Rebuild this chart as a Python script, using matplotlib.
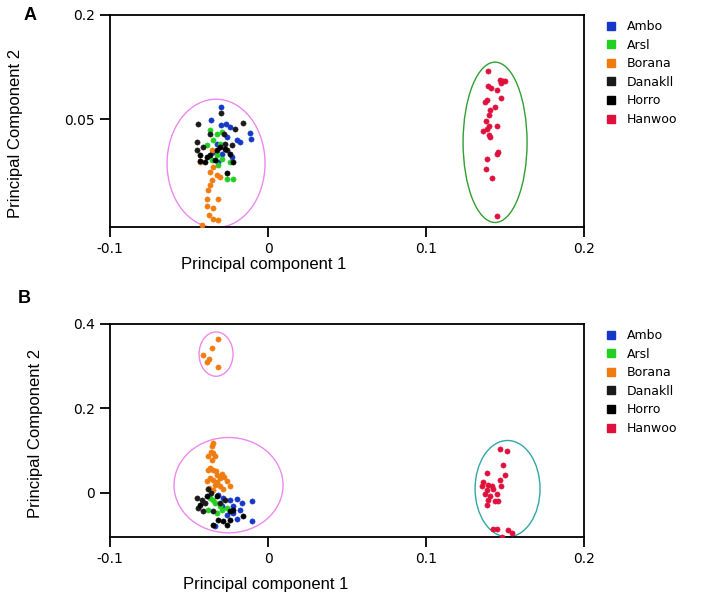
import matplotlib
matplotlib.use("Agg")
import matplotlib.pyplot as plt
from matplotlib.patches import Ellipse
from matplotlib.lines import Line2D

# breeds, legend order and colours
breeds = ["Ambo", "Arsl", "Borana", "Danakll", "Horro", "Hanwoo"]
colors = ["#1538c8", "#22d022", "#f07c10", "#1a1a1a", "#000000", "#e0103c"]

# ---- panel A data (PC1, PC2) ----
a_ambo_x = [-0.0300, -0.0361, -0.0266, -0.0300, -0.0240, -0.0114, -0.0110, -0.0325, -0.0346, -0.0293,
            -0.0262, -0.0198, -0.0177, -0.0230, -0.0314]
a_ambo_y = [0.0678, 0.0486, 0.0437, 0.0413, 0.0389, 0.0303, 0.0221, 0.0149, 0.0029, 0.0005,
            0.0245, 0.0197, 0.0173, -0.0043, -0.0115]
a_arsl_x = [-0.0367, -0.0325, -0.0293, -0.0346, -0.0388, -0.0304, -0.0325, -0.0293, -0.0240, -0.0262,
            -0.0219, -0.0314, -0.0356]
a_arsl_y = [0.0341, 0.0293, 0.0317, 0.0197, 0.0125, 0.0149, -0.0019, -0.0067, -0.0115, -0.0356,
            -0.0356, -0.0163, -0.0091]
a_borana_x = [-0.0430, -0.0346, -0.0367, -0.0325, -0.0304, -0.0356, -0.0367, -0.0378, -0.0388, -0.0314,
              -0.0384, -0.0350, -0.0376, -0.0346, -0.0314, -0.0420, -0.0356]
a_borana_y = [-0.0115, -0.0187, -0.0260, -0.0308, -0.0332, -0.0380, -0.0452, -0.0524, -0.0644, -0.0644,
              -0.0755, -0.0774, -0.0884, -0.0932, -0.0956, -0.1019, 0.0053]
a_danakll_x = [-0.0297, -0.0441, -0.0160, -0.0209, -0.0367, -0.0278, -0.0452, -0.0272, -0.0230, -0.0257,
               -0.0447, -0.0409]
a_danakll_y = [0.0596, 0.0437, 0.0452, 0.0356, 0.0293, 0.0293, 0.0173, 0.0149, 0.0125, 0.0053,
               0.0053, 0.0101]
a_horro_x = [-0.0430, -0.0388, -0.0367, -0.0430, -0.0399, -0.0335, -0.0240, -0.0272, -0.0224, -0.0262,
             -0.0325, -0.0304]
a_horro_y = [-0.0019, -0.0043, -0.0019, -0.0101, -0.0115, -0.0091, 0.0005, 0.0077, -0.0115, -0.0274,
             0.0053, 0.0101]
a_hanwoo_x = [0.1390, 0.1468, 0.1485, 0.1500, 0.1477, 0.1394, 0.1409, 0.1451, 0.1477, 0.1384,
              0.1375, 0.1437, 0.1405, 0.1397, 0.1380, 0.1401, 0.1384, 0.1359, 0.1447, 0.1405,
              0.1397, 0.1458, 0.1447, 0.1388, 0.1380, 0.1418, 0.1447]
a_hanwoo_y = [0.1197, 0.1062, 0.1052, 0.1052, 0.1023, 0.0976, 0.0943, 0.0918, 0.0803, 0.0784,
              0.0749, 0.0677, 0.0630, 0.0558, 0.0475, 0.0399, 0.0366, 0.0331, 0.0409, 0.0245,
              0.0269, 0.0028, 0.0005, -0.0067, -0.0221, -0.0341, -0.0899]

# ---- panel B data (PC1, PC2) ----
b_ambo_x = [-0.0314, -0.0283, -0.0241, -0.0199, -0.0103, -0.0220, -0.0177, -0.0293, -0.0262, -0.0199,
            -0.0103, -0.0336, -0.0220, -0.0167]
b_ambo_y = [-0.0045, -0.0125, -0.0165, -0.0149, -0.0204, -0.0324, -0.0403, -0.0324, -0.0522, -0.0625,
            -0.0680, -0.0799, -0.0482, -0.0244]
b_arsl_x = [-0.0367, -0.0336, -0.0304, -0.0378, -0.0325, -0.0293, -0.0346, -0.0262]
b_arsl_y = [-0.0125, -0.0244, -0.0324, -0.0403, -0.0482, -0.0403, -0.0165, -0.0363]
b_borana_x = [-0.0346, -0.0354, -0.0363, -0.0346, -0.0378, -0.0336, -0.0357, -0.0367, -0.0378, -0.0346,
              -0.0329, -0.0325, -0.0293, -0.0367, -0.0346, -0.0304, -0.0279, -0.0388, -0.0325, -0.0262,
              -0.0336, -0.0304, -0.0241, -0.0371, -0.0283, -0.0346,
              -0.0315, -0.0356, -0.0409, -0.0372, -0.0384, -0.0315]
b_borana_y = [0.1168, 0.1104, 0.0962, 0.0946, 0.0882, 0.0866, 0.0787, 0.0589, 0.0549, 0.0549,
              0.0510, 0.0430, 0.0454, 0.0351, 0.0311, 0.0351, 0.0375, 0.0272, 0.0248, 0.0272,
              0.0193, 0.0153, 0.0153, 0.0113, 0.0089, 0.0073,
              0.364, 0.343, 0.327, 0.317, 0.310, 0.299]
b_danakll_x = [-0.0378, -0.0363, -0.0451, -0.0420, -0.0399, -0.0441, -0.0409, -0.0346, -0.0304, -0.0272]
b_danakll_y = [0.0089, -0.0006, -0.0125, -0.0165, -0.0244, -0.0363, -0.0443, -0.0443, -0.0244, -0.0165]
b_horro_x = [-0.0241, -0.0219, -0.0156, -0.0314, -0.0283, -0.0346, -0.0262, -0.0241, -0.0388, -0.0325,
             -0.0430]
b_horro_y = [-0.0443, -0.0403, -0.0562, -0.0641, -0.0681, -0.0760, -0.0760, -0.0641, -0.0085, -0.0085,
             -0.0284]
b_hanwoo_x = [0.1468, 0.1511, 0.1489, 0.1384, 0.1500, 0.1468, 0.1363, 0.1394, 0.1416, 0.1352,
              0.1384, 0.1426, 0.1473, 0.1373, 0.1405, 0.1447, 0.1394, 0.1437, 0.1384, 0.1458,
              0.1426, 0.1447, 0.1521, 0.1542, 0.1479]
b_hanwoo_y = [0.1041, 0.0986, 0.0652, 0.0470, 0.0430, 0.0296, 0.0248, 0.0193, 0.0153, 0.0153,
              0.0073, 0.0089, 0.0153, -0.0022, -0.0085, -0.0022, -0.0164, -0.0204, -0.0283, -0.0204,
              -0.0862, -0.0862, -0.0894, -0.0957, -0.1052]

x_ticks = [-0.1, 0, 0.1, 0.2]
x_ticklabels = ["-0.1", "0", "0.1", "0.2"]
a_yticks = [0.05, 0.2]
a_yticklabels = ["0.05", "0.2"]
b_yticks = [0, 0.2, 0.4]
b_yticklabels = ["0", "0.2", "0.4"]

tick_font = "DejaVu Sans"
label_font = ["Liberation Sans Narrow", "Liberation Sans"]

fig = plt.figure(figsize=(7.22, 6.04), dpi=100)
axA = fig.add_axes([0.1524, 0.6242, 0.6565, 0.351])
axB = fig.add_axes([0.1524, 0.1109, 0.6565, 0.3527])


def draw(ax, series, ellipses, ylim, yticks, yticklabels):
    for (xs, ys), c in zip(series, colors):
        ax.scatter(xs, ys, s=14, color=c, edgecolors=c, linewidths=0.4, zorder=3)
    for (cx, cy, w, h, ec) in ellipses:
        ax.add_patch(Ellipse((cx, cy), w, h, fill=False, edgecolor=ec, linewidth=1.0, zorder=2))
    ax.set_xlim(-0.1, 0.2)
    ax.set_ylim(*ylim)
    ax.set_xticks(x_ticks)
    ax.set_xticklabels(x_ticklabels, family=tick_font, fontsize=10)
    ax.set_yticks(yticks)
    ax.set_yticklabels(yticklabels, family=tick_font, fontsize=10)
    ax.tick_params(direction="out", length=7, width=1.3, pad=4)
    for sp in ax.spines.values():
        sp.set_linewidth(1.3)
    handles = [Line2D([], [], linestyle="none", marker="s", markersize=5.5,
                      markerfacecolor=c, markeredgecolor=c) for c in colors]
    ax.legend(handles, breeds, loc="upper left", bbox_to_anchor=(1.035, 1.0),
              frameon=False, prop={"family": tick_font, "size": 9},
              handlelength=0.8, handletextpad=0.9, labelspacing=0.45, borderaxespad=0)


draw(axA,
     [(a_ambo_x, a_ambo_y), (a_arsl_x, a_arsl_y), (a_borana_x, a_borana_y),
      (a_danakll_x, a_danakll_y), (a_horro_x, a_horro_y), (a_hanwoo_x, a_hanwoo_y)],
     [(-0.0329, -0.0135, 0.062, 0.1846, "#ee88ee"),
      (0.1437, 0.0168, 0.0405, 0.2307, "#30a030")],
     (-0.105, 0.2), a_yticks, a_yticklabels)

draw(axB,
     [(b_ambo_x, b_ambo_y), (b_arsl_x, b_arsl_y), (b_borana_x, b_borana_y),
      (b_danakll_x, b_danakll_y), (b_horro_x, b_horro_y), (b_hanwoo_x, b_hanwoo_y)],
     [(-0.0329, 0.3286, 0.0215, 0.105, "#ee88ee"),
      (-0.025, 0.0179, 0.069, 0.226, "#ee88ee"),
      (0.1516, 0.0095, 0.0411, 0.2286, "#30a8a8")],
     (-0.105, 0.4), b_yticks, b_yticklabels)

axA.set_ylabel("Principal Component 2", family=label_font, fontsize=12)
axA.yaxis.set_label_coords(-0.184, 0.44)
axA.set_xlabel("Principal component 1", family=label_font, fontsize=12)
axA.xaxis.set_label_coords(0.325, -0.142)

axB.set_ylabel("Principal Component 2", family=label_font, fontsize=12)
axB.yaxis.set_label_coords(-0.141, 0.484)
axB.set_xlabel("Principal component 1", family=label_font, fontsize=12)
axB.xaxis.set_label_coords(0.329, -0.186)

fig.text(30 / 722, 1 - 15 / 604, "A", fontsize=13, fontweight="bold", family="Liberation Sans",
         ha="center", va="center")
fig.text(24 / 722, 1 - 299 / 604, "B", fontsize=13, fontweight="bold", family="Liberation Sans",
         ha="center", va="center")

fig.savefig("out.png", dpi=100)
